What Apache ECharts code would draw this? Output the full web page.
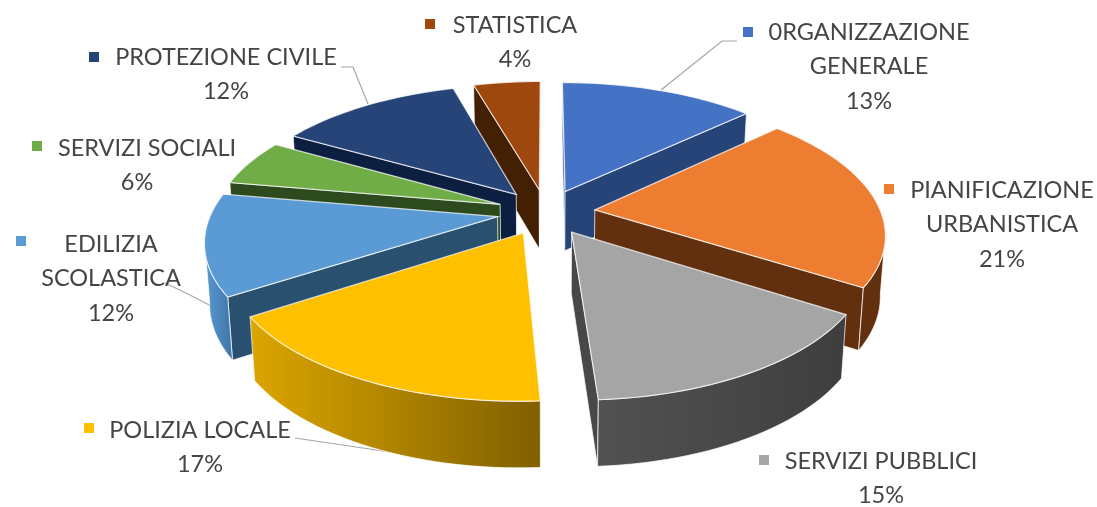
<!DOCTYPE html>
<html>
<head>
<meta charset="utf-8">
<style>
  html, body { margin: 0; padding: 0; background: #fff; }
  #chart { width: 1097px; height: 507px; }
</style>
<script src="https://cdn.jsdelivr.net/npm/echarts@6/dist/echarts.min.js"></script>
</head>
<body>
<div id="chart"></div>
<script>
const categories = ['0RGANIZZAZIONE\nGENERALE', 'PIANIFICAZIONE\nURBANISTICA', 'SERVIZI PUBBLICI', 'POLIZIA LOCALE',
  'EDILIZIA\nSCOLASTICA', 'SERVIZI SOCIALI', 'PROTEZIONE CIVILE', 'STATISTICA'];
// the labels show them rounded
const values = [13, 21, 15, 16.8, 11.9, 5.5, 12.3, 4.45];

const topColors = ['#4472C4', '#ED7D31', '#A5A5A5', '#FFC000', '#5B9BD5', '#70AD47', '#264478', '#9E480E'];
const innerColors = ['#264478', '#63300F', '#484848', '#806000', '#2A5070', '#2C4A1E', '#0D1F40', '#431F04'];
const outerStops = [
  ['#264478', '#264478'], ['#63300F', '#63300F'], ['#525252', '#3E3E3E'], ['#DCA600', '#806000'],
  ['#5B9BD5', '#3F74A6'], ['#2C4A1E', '#2C4A1E'], ['#0D1F40', '#0D1F40'], ['#431F04', '#431F04']
];

// label placement: x = text centre, y = first line, key = legend square
const labelX = [869, 1002, 881, 200, 111, 147, 226, 515];
const labelY = [32, 190, 461, 430, 244, 148, 57, 25];
const keyX = [748, 889, 764, 89, 21, 37, 94, 430];
const keyY = [32, 189, 460, 428, 241, 146, 57, 24];
const pctX = [869, 1002, 881, 200, 111, 137, 226, 515];
const LINE_H = 34.5;

const leaders = [
  [[737, 41], [722, 41], [661, 90]],
  [[295, 438], [390, 452]],
  [[165, 283], [190, 295], [213, 307]],
  [[341, 67], [353, 67], [368, 104]]
];
const leaderColor = '#a6a6a6';

// fake 3D disc
const CX = 546, CY = 212, RX = 286, RY = 133;
const PERSP = 0.164, EXPLODE = 0.172, DEPTH = 60, BOTTOM_SCALE = 0.985;
const WALL_FROM = 100, WALL_TO = 260;

function project(ang, r, mid) {
  // ang / mid in degrees clockwise from the top, r in disc radii
  const a = ang * Math.PI / 180, m = mid * Math.PI / 180;
  const u = r * Math.sin(a) + EXPLODE * Math.sin(m);
  const v = -r * Math.cos(a) - EXPLODE * Math.cos(m);
  const f = 1 / (1 - PERSP * v);
  return { x: CX + RX * u * f, y: CY + RY * v * f, f: f };
}
function topPt(ang, r, mid) {
  const p = project(ang, r, mid);
  return [p.x, p.y];
}
function botPt(ang, r, mid) {
  const p = project(ang, r, mid);
  return [CX + (p.x - CX) * BOTTOM_SCALE, p.y + DEPTH * Math.sqrt(p.f)];
}
function arc(from, to, fn, mid) {
  const pts = [];
  const n = Math.max(2, Math.ceil((to - from) / 2));
  for (let i = 0; i <= n; i++) pts.push(fn(from + (to - from) * i / n, 1, mid));
  return pts;
}
function faceAbove(a, e, m) {
  // true when point m sits above the line a-e on screen
  if (e[0] < a[0]) { const t = a; a = e; e = t; }
  return (e[0] - a[0]) * (m[1] - a[1]) - (e[1] - a[1]) * (m[0] - a[0]) < 0;
}

const total = values.reduce((s, v) => s + v, 0);
const startAngles = [];
values.reduce((s, v, i) => { startAngles[i] = s; return s + v; }, 0);

function renderSlice(params, api) {
  const i = params.dataIndex;
  const a1 = startAngles[i] / total * 360;
  const a2 = a1 + api.value(0) / total * 360;
  const mid = (a1 + a2) / 2;
  const order = -Math.cos(mid * Math.PI / 180);
  const z = Math.round(order * 100) + 200;
  const edge = 'rgba(255,255,255,0.72)';
  const children = [];
  const apexT = topPt(0, 0, mid), apexB = botPt(0, 0, mid);
  const midT = topPt(mid, 1, mid);

  [a1, a2].forEach((ang) => {
    const eT = topPt(ang, 1, mid), eB = botPt(ang, 1, mid);
    if (faceAbove(apexT, eT, midT)) {
      children.push({
        type: 'polygon',
        z2: z,
        shape: { points: [apexT, eT, eB, apexB] },
        style: { fill: innerColors[i], stroke: edge, lineWidth: 1 }
      });
    }
  });

  const wFrom = Math.max(a1, WALL_FROM), wTo = Math.min(a2, WALL_TO);
  if (wTo > wFrom) {
    const pts = arc(wFrom, wTo, topPt, mid).concat(arc(wFrom, wTo, botPt, mid).reverse());
    children.push({
      type: 'polygon',
      z2: z + 1,
      shape: { points: pts },
      style: {
        fill: new echarts.graphic.LinearGradient(0, 0, 1, 0, [
          { offset: 0, color: outerStops[i][0] },
          { offset: 1, color: outerStops[i][1] }
        ]),
        stroke: edge,
        lineWidth: 1
      }
    });
  }

  children.push({
    type: 'polygon',
    z2: z + 2,
    shape: { points: [apexT].concat(arc(a1, a2, topPt, mid)) },
    style: { fill: topColors[i], stroke: edge, lineWidth: 1.2 }
  });
  return { type: 'group', children: children };
}

const graphics = [];
categories.forEach((name, i) => {
  const lines = name.split('\n').concat(Math.round(values[i]) + '%');
  lines.forEach((line, k) => {
    graphics.push({
      type: 'text',
      x: k === lines.length - 1 ? pctX[i] : labelX[i],
      y: labelY[i] + k * LINE_H,
      z: 20,
      style: { text: line, fill: '#454545', font: '23.5px Lato', align: 'center', verticalAlign: 'middle' }
    });
  });
  graphics.push({
    type: 'rect',
    z: 20,
    shape: { x: keyX[i] - 5, y: keyY[i] - 5, width: 10, height: 10 },
    style: { fill: topColors[i] }
  });
});
leaders.forEach((pts) => {
  graphics.push({
    type: 'polyline',
    z: 1,
    shape: { points: pts },
    style: { stroke: leaderColor, lineWidth: 1.2, fill: 'none' }
  });
});

const myChart = echarts.init(document.getElementById('chart'));
myChart.setOption({
  backgroundColor: '#fff',
  animation: false,
  graphic: graphics,
  series: [
    {
      type: 'custom',
      coordinateSystem: 'none',
      renderItem: renderSlice,
      data: values.map((v) => [v]),
      z: 5
    }
  ]
});
</script>
</body>
</html>
